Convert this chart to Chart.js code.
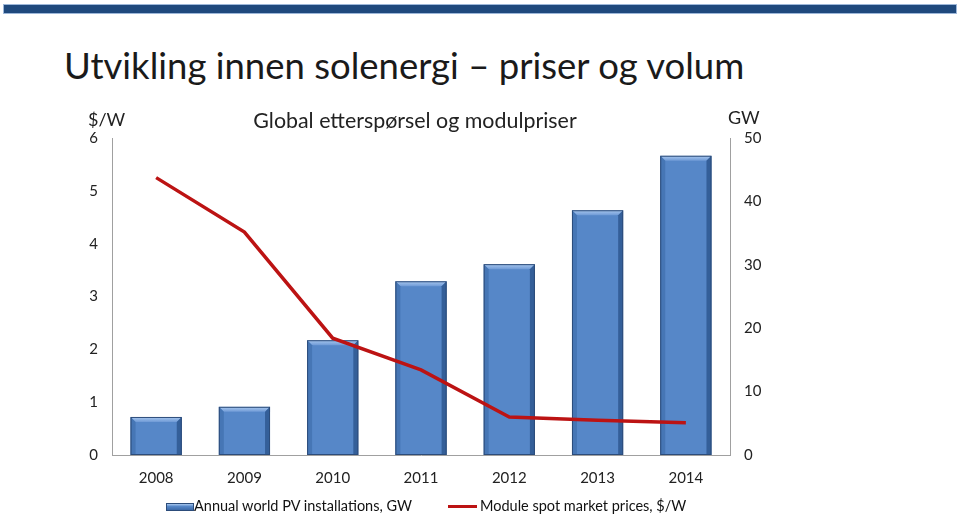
<!DOCTYPE html>
<html>
<head>
<meta charset="utf-8">
<script src="https://cdn.jsdelivr.net/npm/chart.js@4"></script>
<style>
    html, body { margin: 0; padding: 0; background: #fff; }
    #page { position: relative; width: 960px; height: 516px; overflow: hidden; font-family: 'Lato', sans-serif; }
    #topbar { position: absolute; left: 3px; top: 4px; width: 952px; height: 8px; background: #1f497d; border: 1px solid #9db7d9; }
    #heading { position: absolute; left: 64px; top: 43px; font-size: 36.5px; color: #1a1a1a; white-space: nowrap; }
    #wrap { position: absolute; left: 0; top: 0; width: 960px; height: 516px; }
    #legend { position: absolute; top: 496px; left: 0; height: 20px; font-size: 14.5px; color: #111; }
    .lg-item { position: absolute; top: 0; white-space: nowrap; line-height: 20px; }
    .lg-bar  { position: absolute; top: 7px; width: 26px; height: 6px; border: 1px solid #2c4c7a;
               background: linear-gradient(#a9c8ef, #5687c8 40%, #3d6aa8); }
    .lg-line { position: absolute; top: 9px; width: 29px; height: 3px; background: #bc1313; }
    .lg-text { position: absolute; top: 0; }
</style>
</head>
<body>
<div id="page">
    <div id="topbar"></div>
    <div id="heading">Utvikling innen solenergi – priser og volum</div>
    <div id="wrap"><canvas id="chart"></canvas></div>
    <div id="legend"></div>
</div>
<script>
// Data lest av bildet
const years       = ["2008", "2009", "2010", "2011", "2012", "2013", "2014"];
const gwInstalled = [6.0, 7.6, 18.1, 27.4, 30.1, 38.6, 47.2];
const spotPrices  = [5.25, 4.22, 2.21, 1.61, 0.72, 0.66, 0.61];

const chartTitle = "Global etterspørsel og modulpriser";
const leftUnit   = "$/W";
const rightUnit  = "GW";

const FONT = "'Lato', sans-serif";
const AXIS_GRAY = "#a0a0a0";

// Bevel-effekt på søylene + ekstra tekster (enheter og diagramtittel)
const extras = {
    id: "extras",
    afterDatasetDraw(chart, args) {
        if (args.meta.type !== "bar") return;
        const ctx = chart.ctx;
        args.meta.data.forEach(bar => {
            const { x, y, base, width } = bar.getProps(["x", "y", "base", "width"], true);
            const l = x - width / 2, r = x + width / 2, t = y, b = base;
            const bv = 5;
            ctx.save();
            // topp
            const gTop = ctx.createLinearGradient(0, t, 0, t + bv);
            gTop.addColorStop(0, "#a9c8ef");
            gTop.addColorStop(1, "#6f9ad6");
            ctx.fillStyle = gTop;
            ctx.beginPath();
            ctx.moveTo(l, t); ctx.lineTo(r, t); ctx.lineTo(r - bv, t + bv); ctx.lineTo(l + bv, t + bv);
            ctx.closePath(); ctx.fill();
            // venstre side
            ctx.fillStyle = "#4676b5";
            ctx.beginPath();
            ctx.moveTo(l, t); ctx.lineTo(l + bv, t + bv); ctx.lineTo(l + bv, b); ctx.lineTo(l, b);
            ctx.closePath(); ctx.fill();
            // høyre side
            ctx.fillStyle = "#345f99";
            ctx.beginPath();
            ctx.moveTo(r, t); ctx.lineTo(r - bv, t + bv); ctx.lineTo(r - bv, b); ctx.lineTo(r, b);
            ctx.closePath(); ctx.fill();
            // kant
            ctx.strokeStyle = "#2c4c7a";
            ctx.lineWidth = 1;
            ctx.strokeRect(l + 0.5, t + 0.5, width - 1, b - t - 1);
            ctx.restore();
        });
    },
    afterDraw(chart) {
        const ctx = chart.ctx;
        const yL = chart.scales.price, yR = chart.scales.gw;
        ctx.save();
        ctx.fillStyle = "#222";
        ctx.textBaseline = "middle";
        ctx.font = "18px " + FONT;
        ctx.textAlign = "left";
        ctx.fillText(leftUnit, 88, yL.top - 18);
        ctx.fillText(rightUnit, yR.left - 2, yR.top - 20);
        ctx.font = "21.4px " + FONT;
        ctx.textAlign = "center";
        ctx.fillText(chartTitle, 415, yL.top - 17);
        ctx.restore();
    }
};

const chart = new Chart(document.getElementById("chart"), {
    type: "bar",
    data: {
        labels: years,
        datasets: [
            {
                type: "bar",
                label: "Annual world PV installations, GW",
                data: gwInstalled,
                yAxisID: "gw",
                backgroundColor: "#5687c8",
                borderColor: "#2c4c7a",
                borderWidth: 1,
                barPercentage: 0.58,
                categoryPercentage: 1,
                order: 1
            },
            {
                type: "line",
                label: "Module spot market prices, $/W",
                data: spotPrices,
                yAxisID: "price",
                borderColor: "#bc1313",
                backgroundColor: "#bc1313",
                borderWidth: 3.5,
                pointRadius: 0,
                tension: 0,
                order: 0
            }
        ]
    },
    options: {
        responsive: true,
        maintainAspectRatio: false,
        animation: false,
        layout: { padding: { top: 138, left: 0, right: 0, bottom: 0 } },
        plugins: {
            title: { display: false },
            tooltip: { enabled: false },
            legend: { display: false }
        },
        scales: {
            x: {
                grid: { display: false, drawTicks: false },
                border: { color: AXIS_GRAY, width: 1 },
                ticks: { color: "#222", padding: 14, font: { family: FONT, size: 15 } },
                afterFit: s => { s.height = 61; }
            },
            price: {
                position: "left",
                min: 0, max: 6,
                ticks: { stepSize: 1, color: "#222", padding: 14, font: { family: FONT, size: 15 } },
                grid: { display: false, drawTicks: false },
                border: { color: AXIS_GRAY, width: 1 },
                afterFit: s => { s.width = 112; }
            },
            gw: {
                position: "right",
                min: 0, max: 50,
                ticks: { stepSize: 10, color: "#222", padding: 14, font: { family: FONT, size: 15 } },
                grid: { display: false, drawTicks: false },
                border: { color: AXIS_GRAY, width: 1 },
                afterFit: s => { s.width = 230; }
            }
        }
    },
    plugins: [extras]
});

// Egen legend i HTML (plassering som i originalen)
const legendEl = document.getElementById("legend");
const legendX  = [166, 448];
chart.data.datasets.forEach((ds, i) => {
    const item = document.createElement("div");
    item.className = "lg-item";
    item.style.left = legendX[i] + "px";
    const icon = document.createElement("div");
    icon.className = ds.type === "line" ? "lg-line" : "lg-bar";
    icon.style.left = "0px";
    const txt = document.createElement("div");
    txt.className = "lg-text";
    txt.style.left = (ds.type === "line" ? 32 : 28) + "px";
    txt.textContent = ds.label;
    item.appendChild(icon);
    item.appendChild(txt);
    legendEl.appendChild(item);
});
</script>
</body>
</html>
